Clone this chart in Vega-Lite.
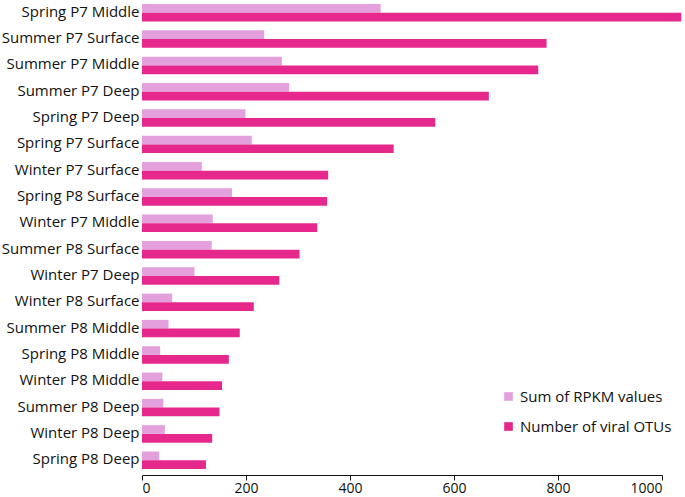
{
  "$schema": "https://vega.github.io/schema/vega-lite/v6.json",
  "autosize": "none",
  "width": 520,
  "height": 467,
  "padding": {"left": 142, "top": 3, "right": 23, "bottom": 27},
  "background": "white",
  "config": {
    "view": {"stroke": null},
    "font": "Open Sans"
  },
  "data": {
    "values": [
      {"sample": "Spring P7 Middle", "series": "Sum of RPKM values", "value": 459},
      {"sample": "Spring P7 Middle", "series": "Number of viral OTUs", "value": 1037},
      {"sample": "Summer P7 Surface", "series": "Sum of RPKM values", "value": 235},
      {"sample": "Summer P7 Surface", "series": "Number of viral OTUs", "value": 778},
      {"sample": "Summer P7 Middle", "series": "Sum of RPKM values", "value": 269},
      {"sample": "Summer P7 Middle", "series": "Number of viral OTUs", "value": 762},
      {"sample": "Summer P7 Deep", "series": "Sum of RPKM values", "value": 283},
      {"sample": "Summer P7 Deep", "series": "Number of viral OTUs", "value": 667},
      {"sample": "Spring P7 Deep", "series": "Sum of RPKM values", "value": 199},
      {"sample": "Spring P7 Deep", "series": "Number of viral OTUs", "value": 564},
      {"sample": "Spring P7 Surface", "series": "Sum of RPKM values", "value": 211},
      {"sample": "Spring P7 Surface", "series": "Number of viral OTUs", "value": 484},
      {"sample": "Winter P7 Surface", "series": "Sum of RPKM values", "value": 115},
      {"sample": "Winter P7 Surface", "series": "Number of viral OTUs", "value": 358},
      {"sample": "Spring P8 Surface", "series": "Sum of RPKM values", "value": 173},
      {"sample": "Spring P8 Surface", "series": "Number of viral OTUs", "value": 356},
      {"sample": "Winter P7 Middle", "series": "Sum of RPKM values", "value": 136},
      {"sample": "Winter P7 Middle", "series": "Number of viral OTUs", "value": 337},
      {"sample": "Summer P8 Surface", "series": "Sum of RPKM values", "value": 134},
      {"sample": "Summer P8 Surface", "series": "Number of viral OTUs", "value": 303},
      {"sample": "Winter P7 Deep", "series": "Sum of RPKM values", "value": 101},
      {"sample": "Winter P7 Deep", "series": "Number of viral OTUs", "value": 264},
      {"sample": "Winter P8 Surface", "series": "Sum of RPKM values", "value": 58},
      {"sample": "Winter P8 Surface", "series": "Number of viral OTUs", "value": 215},
      {"sample": "Summer P8 Middle", "series": "Sum of RPKM values", "value": 51},
      {"sample": "Summer P8 Middle", "series": "Number of viral OTUs", "value": 188},
      {"sample": "Spring P8 Middle", "series": "Sum of RPKM values", "value": 35},
      {"sample": "Spring P8 Middle", "series": "Number of viral OTUs", "value": 167},
      {"sample": "Winter P8 Middle", "series": "Sum of RPKM values", "value": 39},
      {"sample": "Winter P8 Middle", "series": "Number of viral OTUs", "value": 154},
      {"sample": "Summer P8 Deep", "series": "Sum of RPKM values", "value": 41},
      {"sample": "Summer P8 Deep", "series": "Number of viral OTUs", "value": 149},
      {"sample": "Winter P8 Deep", "series": "Sum of RPKM values", "value": 44},
      {"sample": "Winter P8 Deep", "series": "Number of viral OTUs", "value": 135},
      {"sample": "Spring P8 Deep", "series": "Sum of RPKM values", "value": 33},
      {"sample": "Spring P8 Deep", "series": "Number of viral OTUs", "value": 123}
    ]
  },
  "mark": {"type": "bar", "clip": false},
  "encoding": {
    "y": {
      "field": "sample",
      "type": "nominal",
      "sort": null,
      "scale": {"paddingInner": 0.337, "paddingOuter": 0.04},
      "axis": {
        "title": null,
        "domain": false,
        "ticks": false,
        "labelPadding": 3,
        "labelFontSize": 15,
        "labelColor": "#111111",
        "labelOffset": -1,
        "labelLimit": 200
      }
    },
    "yOffset": {
      "field": "series",
      "type": "nominal",
      "sort": ["Sum of RPKM values", "Number of viral OTUs"],
      "scale": {"paddingInner": 0, "paddingOuter": 0}
    },
    "x": {
      "field": "value",
      "type": "quantitative",
      "scale": {"domain": [0, 1000], "nice": false},
      "axis": {
        "title": null,
        "values": [0, 200, 400, 600, 800, 1000],
        "format": "d",
        "grid": false,
        "offset": 5,
        "domainColor": "#111111",
        "tickColor": "#111111",
        "tickSize": 5,
        "labelFontSize": 14,
        "labelColor": "#111111",
        "labelPadding": 1
      }
    },
    "color": {
      "field": "series",
      "type": "nominal",
      "sort": ["Sum of RPKM values", "Number of viral OTUs"],
      "scale": {
        "domain": ["Sum of RPKM values", "Number of viral OTUs"],
        "range": ["#E4A0DC", "#E6288C"]
      },
      "legend": {
        "title": null,
        "orient": "none",
        "legendX": 359,
        "legendY": 386,
        "symbolType": "square",
        "symbolSize": 75,
        "symbolStrokeWidth": 0,
        "labelFontSize": 15,
        "labelColor": "#111111",
        "labelOffset": 4,
        "rowPadding": 14
      }
    }
  }
}
